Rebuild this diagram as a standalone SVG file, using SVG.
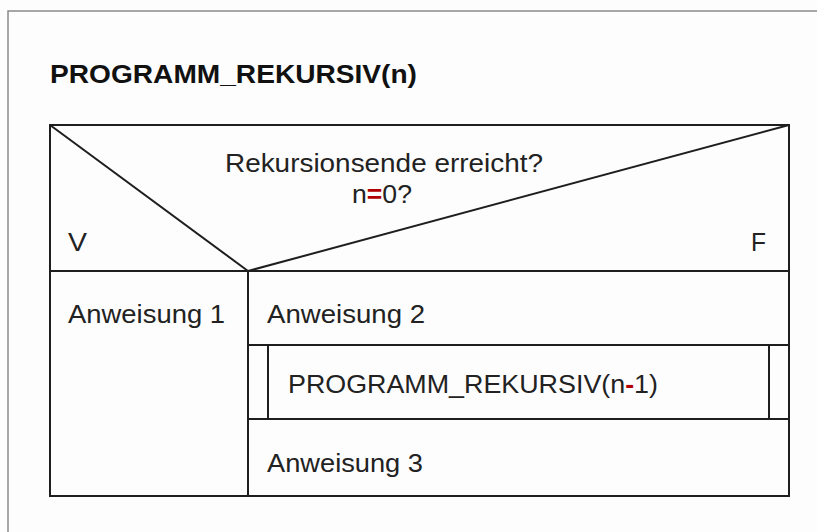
<svg xmlns="http://www.w3.org/2000/svg" width="817" height="532" viewBox="0 0 817 532">
  <style>
    .ln { stroke: #1e1e1e; stroke-width: 2; fill: none; }
    .frame { stroke: #8a8a8a; stroke-width: 1.5; fill: none; }
    .t { font-family: "Liberation Sans", Arial, sans-serif; font-size: 25px; fill: #222; }
    .title { font-family: "Liberation Sans", Arial, sans-serif; font-size: 25px; font-weight: bold; fill: #111; }
    .red { fill: #b00000; font-weight: bold; }
  </style>
  <rect x="0" y="0" width="817" height="532" fill="#fdfdfd"/>
  <!-- page frame -->
  <path class="frame" d="M8,532 V11 H817"/>

  <g id="title">
    <text class="title" x="50" y="83" textLength="367" lengthAdjust="spacingAndGlyphs">PROGRAMM_REKURSIV(n)</text>
  </g>

  <!-- struktogram outline and dividers -->
  <g id="connectors">
    <rect class="ln" x="50" y="125" width="739" height="371"/>
    <line class="ln" x1="50" y1="125" x2="248" y2="271"/>
    <line class="ln" x1="248" y1="271" x2="789" y2="125"/>
    <line class="ln" x1="50" y1="271" x2="789" y2="271"/>
    <line class="ln" x1="248" y1="271" x2="248" y2="496"/>
    <line class="ln" x1="248" y1="345" x2="789" y2="345"/>
    <line class="ln" x1="248" y1="419" x2="789" y2="419"/>
    <line class="ln" x1="268" y1="345" x2="268" y2="419"/>
    <line class="ln" x1="769" y1="345" x2="769" y2="419"/>
  </g>

  <g id="condition">
    <text class="t" x="384" y="172" text-anchor="middle" textLength="318" lengthAdjust="spacingAndGlyphs">Rekursionsende erreicht?</text>
    <text class="t" x="382" y="203" text-anchor="middle" textLength="60" lengthAdjust="spacingAndGlyphs">n<tspan class="red">=</tspan>0?</text>
    <text class="t" x="68" y="251" textLength="19" lengthAdjust="spacingAndGlyphs">V</text>
    <text class="t" x="751" y="251" textLength="15" lengthAdjust="spacingAndGlyphs">F</text>
  </g>

  <g id="anweisung1">
    <text class="t" x="68" y="323" textLength="157" lengthAdjust="spacingAndGlyphs">Anweisung 1</text>
  </g>

  <g id="anweisung2">
    <text class="t" x="267" y="323" textLength="158" lengthAdjust="spacingAndGlyphs">Anweisung 2</text>
  </g>

  <g id="aufruf">
    <text class="t" x="288" y="393" textLength="370" lengthAdjust="spacingAndGlyphs">PROGRAMM_REKURSIV(n<tspan class="red">-</tspan>1)</text>
  </g>

  <g id="anweisung3">
    <text class="t" x="267" y="472" textLength="156" lengthAdjust="spacingAndGlyphs">Anweisung 3</text>
  </g>
</svg>
